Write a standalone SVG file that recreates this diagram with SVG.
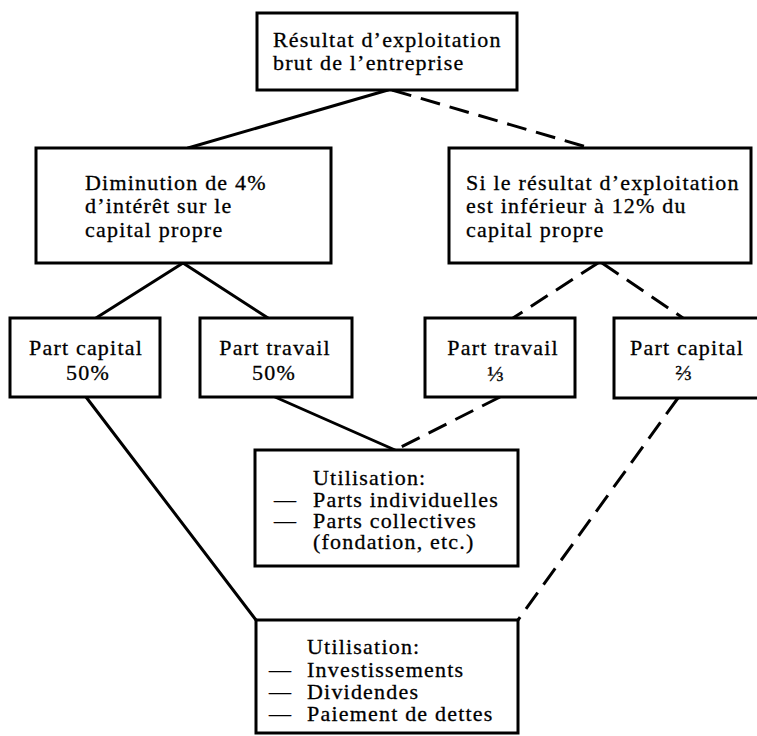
<svg xmlns="http://www.w3.org/2000/svg" width="757" height="736" viewBox="0 0 757 736">
  <style>
    .box { fill: #fff; stroke: #000; stroke-width: 3; }
    .edge { fill: none; stroke: #000; stroke-width: 3; stroke-linecap: round; }
    .dash { stroke-dasharray: 20 10; stroke-linecap: butt; }
    text { font-family: "Liberation Serif", "DejaVu Serif", serif; font-size: 22px; letter-spacing: 1.2px; fill: #000; stroke: #000; stroke-width: 0.3px; }
    .mid { text-anchor: middle; }
  </style>
  <rect width="757" height="736" fill="#fff"/>

  <!-- connectors: solid for the normal case, dashed for the low-result case -->
  <g id="connectors">
    <line class="edge" x1="388" y1="90" x2="188" y2="148"/>
    <line class="edge dash" x1="392" y1="90" x2="590" y2="148"/>
    <line class="edge" x1="183" y1="263" x2="96" y2="318"/>
    <line class="edge" x1="183" y1="263" x2="268" y2="318"/>
    <line class="edge dash" x1="598" y1="263" x2="513" y2="318"/>
    <line class="edge dash" x1="602" y1="263" x2="683" y2="318"/>
    <line class="edge" x1="275" y1="397" x2="395" y2="450"/>
    <line class="edge dash" x1="500" y1="397" x2="395" y2="450"/>
    <line class="edge" x1="86" y1="397" x2="256" y2="620"/>
    <line class="edge dash" x1="678" y1="398" x2="518" y2="620"/>
  </g>

  <g id="resultat-brut">
    <rect class="box" x="257" y="13" width="260" height="77"/>
    <text x="273" y="47">Résultat d’exploitation</text>
    <text x="273" y="70">brut de l’entreprise</text>
  </g>

  <g id="diminution">
    <rect class="box" x="36" y="148" width="295" height="115"/>
    <text x="85" y="190">Diminution de 4%</text>
    <text x="85" y="213">d’intérêt sur le</text>
    <text x="85" y="237">capital propre</text>
  </g>

  <g id="si-inferieur">
    <rect class="box" x="449" y="148" width="302" height="115"/>
    <text x="466" y="190">Si le résultat d’exploitation</text>
    <text x="466" y="213">est inférieur à 12% du</text>
    <text x="466" y="237">capital propre</text>
  </g>

  <g id="part-capital-50">
    <rect class="box" x="10" y="318" width="150" height="79"/>
    <text class="mid" x="86" y="355">Part capital</text>
    <text class="mid" x="88" y="380">50%</text>
  </g>

  <g id="part-travail-50">
    <rect class="box" x="200" y="318" width="152" height="79"/>
    <text class="mid" x="275" y="355">Part travail</text>
    <text class="mid" x="274" y="380">50%</text>
  </g>

  <g id="part-travail-tiers">
    <rect class="box" x="425" y="318" width="150" height="79"/>
    <text class="mid" x="503" y="355">Part travail</text>
    <text class="mid" x="496" y="381">⅓</text>
  </g>

  <g id="part-capital-deux-tiers">
    <rect class="box" x="614" y="318" width="150" height="80"/>
    <text class="mid" x="687" y="355">Part capital</text>
    <text class="mid" x="684" y="380">⅔</text>
  </g>

  <g id="utilisation-travail">
    <rect class="box" x="255" y="450" width="263" height="116"/>
    <text x="313" y="485">Utilisation:</text>
    <text y="507"><tspan x="274">—</tspan><tspan x="313">Parts individuelles</tspan></text>
    <text y="528"><tspan x="274">—</tspan><tspan x="313">Parts collectives</tspan></text>
    <text x="313" y="549">(fondation, etc.)</text>
  </g>

  <g id="utilisation-capital">
    <rect class="box" x="256" y="620" width="262" height="113"/>
    <text x="307" y="654">Utilisation:</text>
    <text y="677"><tspan x="269">—</tspan><tspan x="307">Investissements</tspan></text>
    <text y="699"><tspan x="269">—</tspan><tspan x="307">Dividendes</tspan></text>
    <text y="721"><tspan x="269">—</tspan><tspan x="307">Paiement de dettes</tspan></text>
  </g>
</svg>
